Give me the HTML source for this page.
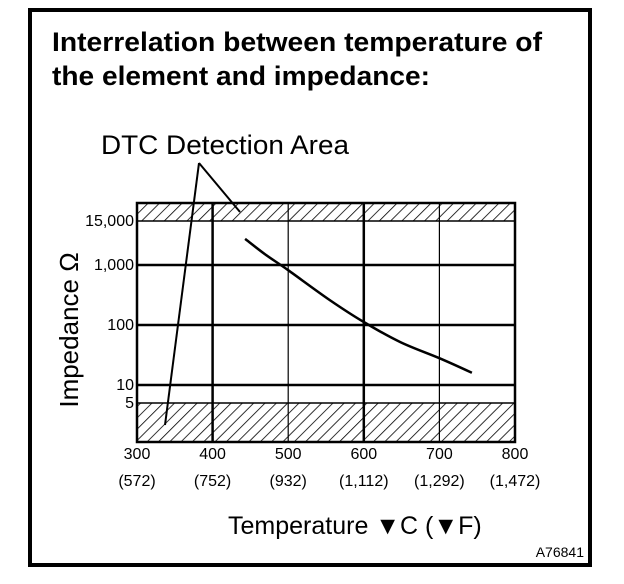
<!DOCTYPE html>
<html><head><meta charset="utf-8"><style>
html,body{margin:0;padding:0;background:#fff;}
svg{display:block;font-family:"Liberation Sans",Arial,sans-serif;}
</style></head><body>
<svg id="chart" width="624" height="584" viewBox="0 0 624 584" xmlns="http://www.w3.org/2000/svg">
<defs>
<pattern id="hatch" patternUnits="userSpaceOnUse" width="8" height="8" patternTransform="rotate(45)">
<rect width="8" height="8" fill="#fff"/>
<line x1="0" y1="0" x2="0" y2="8" stroke="#000" stroke-width="1.6"/>
</pattern>
</defs>
<rect x="30" y="10" width="560" height="555" fill="#fff" stroke="#000" stroke-width="4"/>
<text x="52" y="51" font-size="27" font-weight="bold" textLength="490" lengthAdjust="spacingAndGlyphs">Interrelation between temperature of</text>
<text x="52" y="85" font-size="27" font-weight="bold" textLength="378" lengthAdjust="spacingAndGlyphs">the element and impedance:</text>
<text x="101" y="154" font-size="27" textLength="248" lengthAdjust="spacingAndGlyphs">DTC Detection Area</text>
<g id="plot"></g>
<line x1="199" y1="163" x2="165" y2="425" stroke="#000" stroke-width="2"/>
<line x1="199" y1="163" x2="240" y2="212" stroke="#000" stroke-width="2"/>
<text transform="translate(78,330) rotate(-90)" text-anchor="middle" font-size="26">Impedance Ω</text>
<text x="228" y="534" font-size="25">Temperature ▼C (▼F)</text>
<text x="584" y="557" font-size="14" text-anchor="end">A76841</text>
</svg>
<script>
const xTicks = [300, 400, 500, 600, 700, 800];
const xTicksF = ["(572)", "(752)", "(932)", "(1,112)", "(1,292)", "(1,472)"];
const yTicks = [5, 10, 100, 1000, 15000];
const yTickLabels = ["5", "10", "100", "1,000", "15,000"];
const curveTemp = [443, 470, 500, 555, 600, 648, 700, 743];
const curveImp = [5000, 1900, 820, 260, 112, 52, 28, 16];
const dtcLow = 5;
const dtcHigh = 15000;

const NS = "http://www.w3.org/2000/svg";
const plot = document.getElementById("plot");
const L = 137, R = 515, T = 203, B = 442;
function xS(t){ return L + (t - 300) / (800 - 300) * (R - L); }
const yAnchV = [1.12, 5, 10, 100, 1000, 15000, 45000];
const yAnchP = [442, 403, 385, 325, 265, 221, 203];
function yS(v){
  const lv = Math.log10(v);
  for (let i = 0; i < yAnchV.length - 1; i++) {
    const a = Math.log10(yAnchV[i]), b = Math.log10(yAnchV[i+1]);
    if (lv <= b || i === yAnchV.length - 2) {
      return yAnchP[i] + (lv - a) / (b - a) * (yAnchP[i+1] - yAnchP[i]);
    }
  }
}
function mk(tag, attrs){ const e = document.createElementNS(NS, tag); for (const k in attrs) e.setAttribute(k, attrs[k]); plot.appendChild(e); return e; }

let e;
e = mk("rect", {x: L, y: T, width: R - L, height: yS(dtcHigh) - T, fill: "url(#hatch)"});


e = mk("rect", {x: L, y: yS(dtcLow), width: R - L, height: B - yS(dtcLow), fill: "url(#hatch)"});



yTicks.forEach((v, i) => {
  const y = yS(v);
  e = mk("line", {x1: L, x2: R, y1: y, y2: y, stroke: "#000", "stroke-width": (v === dtcLow || v === dtcHigh) ? 1.5 : 2.5});
  
  
  e = mk("text", {x: L - 3, y: y + 5, "text-anchor": "end", "font-size": "16"});
  e.textContent = yTickLabels[i];
  
  
});
xTicks.forEach((t, i) => {
  const x = xS(t);
  if (i > 0 && i < xTicks.length - 1) {
    e = mk("line", {x1: x, x2: x, y1: T, y2: B, stroke: "#000", "stroke-width": (i % 2 === 1) ? 2.5 : 1.2});
    
    
  }
  e = mk("text", {x: x, y: 459, "text-anchor": "middle", "font-size": "16"});
  e.textContent = t;
  
  
  e = mk("text", {x: x, y: 486, "text-anchor": "middle", "font-size": "16"});
  e.textContent = xTicksF[i];
  
  
});
e = mk("rect", {x: L, y: T, width: R - L, height: B - T, fill: "none", stroke: "#000", "stroke-width": 2.5});



// smooth curve through points (Catmull-Rom)
const pts = curveTemp.map((t, i) => [xS(t), yS(curveImp[i])]);
let d = "M" + pts[0][0].toFixed(1) + " " + pts[0][1].toFixed(1);
for (let i = 0; i < pts.length - 1; i++) {
  const p0 = pts[Math.max(0, i - 1)], p1 = pts[i], p2 = pts[i + 1], p3 = pts[Math.min(pts.length - 1, i + 2)];
  const c1 = [p1[0] + (p2[0] - p0[0]) / 6, p1[1] + (p2[1] - p0[1]) / 6];
  const c2 = [p2[0] - (p3[0] - p1[0]) / 6, p2[1] - (p3[1] - p1[1]) / 6];
  d += " C" + c1[0].toFixed(1) + " " + c1[1].toFixed(1) + " " + c2[0].toFixed(1) + " " + c2[1].toFixed(1) + " " + p2[0].toFixed(1) + " " + p2[1].toFixed(1);
}
e = mk("path", {d: d, fill: "none", stroke: "#000", "stroke-width": 2.5, "stroke-linejoin": "round"});


</script>
</body></html>
